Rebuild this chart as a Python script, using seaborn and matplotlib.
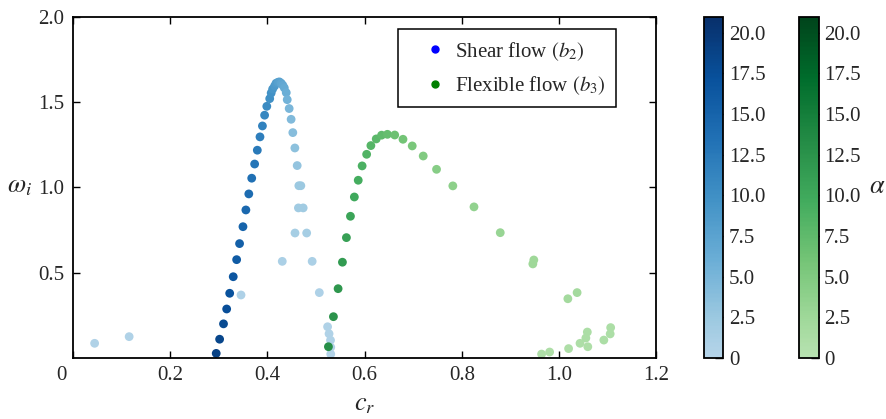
import numpy as np
import pandas as pd
import matplotlib
matplotlib.use("Agg")
import matplotlib.pyplot as plt
import matplotlib.colors as mcolors
import matplotlib.transforms as mtransforms
from matplotlib.lines import Line2D
from matplotlib.ticker import FuncFormatter
import seaborn as sns

# Shear flow (b2): phase speed, growth rate, wavenumber
shear_cr = [0.295, 0.302, 0.310, 0.3165, 0.3227, 0.330, 0.337, 0.343, 0.350, 0.356,
            0.362, 0.368, 0.374, 0.3795, 0.385, 0.390, 0.3945, 0.399, 0.405, 0.408,
            0.411, 0.415, 0.418, 0.422, 0.425, 0.4287, 0.432, 0.435, 0.439,
            0.441, 0.445, 0.449, 0.4525, 0.4567, 0.4615, 0.4649, 0.469, 0.464, 0.4738,
            0.457, 0.481, 0.4308, 0.4923, 0.346, 0.507, 0.045, 0.116,
            0.524, 0.527, 0.530, 0.5305, 0.5305]
shear_wi = [0.027, 0.110, 0.200, 0.287, 0.379, 0.476, 0.576, 0.670, 0.769, 0.867,
            0.961, 1.053, 1.136, 1.217, 1.295, 1.359, 1.422, 1.474, 1.519, 1.552,
            1.575, 1.593, 1.609, 1.615, 1.617, 1.609, 1.597, 1.582, 1.554,
            1.513, 1.461, 1.398, 1.320, 1.230, 1.127, 1.009, 1.009, 0.879, 0.879,
            0.732, 0.732, 0.566, 0.566, 0.369, 0.383, 0.086, 0.125,
            0.183, 0.142, 0.104, 0.063, 0.023]
shear_alpha = [19.0, 18.5, 18.0, 17.5, 17.0, 16.5, 16.0, 15.5, 15.0, 14.5,
               14.0, 13.5, 13.0, 12.5, 12.0, 11.5, 11.0, 10.5, 10.0, 9.6,
               9.2, 8.8, 8.4, 8.0, 7.6, 7.2, 6.8, 6.4, 6.0,
               5.5, 5.0, 4.5, 4.0, 3.5, 3.0, 2.5, 2.5, 2.0, 2.0,
               1.5, 1.5, 1.0, 1.0, 0.8, 0.8, 0.5, 0.5,
               0.6, 0.5, 0.5, 0.4, 0.4]

# Flexible flow (b3)
flex_cr = [0.5257, 0.536, 0.5456, 0.5545, 0.5627, 0.571, 0.579, 0.587, 0.595, 0.6043,
           0.613, 0.624, 0.635, 0.647, 0.662, 0.679, 0.698, 0.7206, 0.748, 0.7815,
           0.825, 0.879, 0.948, 0.946, 1.018, 1.037,
           0.964, 0.9805, 1.0195, 1.043, 1.059, 1.055, 1.058, 1.092, 1.105, 1.106]
flex_wi = [0.066, 0.242, 0.406, 0.561, 0.705, 0.830, 0.943, 1.041, 1.125, 1.193,
           1.244, 1.283, 1.305, 1.310, 1.306, 1.281, 1.242, 1.183, 1.105, 1.008,
           0.885, 0.734, 0.574, 0.551, 0.347, 0.383,
           0.023, 0.035, 0.055, 0.086, 0.066, 0.117, 0.152, 0.105, 0.141, 0.178]
flex_alpha = [13.0, 12.5, 12.0, 11.5, 11.0, 10.5, 10.0, 9.5, 9.0, 8.6,
              8.2, 7.8, 7.4, 7.0, 6.5, 6.0, 5.5, 5.0, 4.5, 4.0,
              3.5, 3.0, 2.5, 2.4, 2.0, 2.0,
              1.0, 1.0, 1.0, 1.0, 1.0, 1.2, 1.2, 1.2, 1.2, 1.2]

x_ticks = [0, 0.2, 0.4, 0.6, 0.8, 1.0, 1.2]
x_tick_labels = ["0", "0.2", "0.4", "0.6", "0.8", "1.0", "1.2"]
y_ticks = [0.5, 1.0, 1.5, 2.0]
y_tick_labels = ["0.5", "1.0", "1.5", "2.0"]
cbar_ticks = [0, 2.5, 5.0, 7.5, 10.0, 12.5, 15.0, 17.5, 20.0]
alpha_max = 21.0

sns.set_style("ticks")
plt.rcParams["font.family"] = ["Liberation Serif", "DejaVu Serif"]
plt.rcParams["mathtext.fontset"] = "stix"
plt.rcParams["xtick.direction"] = "in"
plt.rcParams["ytick.direction"] = "in"


def truncated(name, lo=0.3, hi=1.0, n=256):
    base = plt.get_cmap(name)
    return mcolors.LinearSegmentedColormap.from_list(
        f"{name}_trunc", base(np.linspace(lo, hi, n)))


blues = truncated("Blues", 0.3, 1.0)
greens = truncated("Greens", 0.3, 1.0)
norm = mcolors.Normalize(vmin=0, vmax=alpha_max)

shear = pd.DataFrame({"cr": shear_cr, "wi": shear_wi, "alpha": shear_alpha})
flex = pd.DataFrame({"cr": flex_cr, "wi": flex_wi, "alpha": flex_alpha})

fig = plt.figure(figsize=(8.87, 4.19), dpi=100)
ax = fig.add_axes([0.082, 0.1456, 0.658, 0.815])

sns.scatterplot(data=shear, x="cr", y="wi", hue="alpha", palette=blues,
                hue_norm=norm, s=40, linewidth=0, legend=False, ax=ax)
sns.scatterplot(data=flex, x="cr", y="wi", hue="alpha", palette=greens,
                hue_norm=norm, s=40, linewidth=0, legend=False, ax=ax)

ax.set_xlim(0, 1.2)
ax.set_ylim(0, 2.0)
ax.set_xticks(x_ticks)
ax.set_xticklabels(x_tick_labels)
ax.set_yticks(y_ticks)
ax.set_yticklabels(y_tick_labels)
ax.tick_params(axis="both", which="major", direction="in", length=5, width=1,
               top=True, right=True, labelsize=15, pad=6, color="black")
# nudge the origin label off the corner
lbl0 = ax.get_xticklabels()[0]
lbl0.set_transform(lbl0.get_transform()
                   + mtransforms.ScaledTranslation(-11 / 100, 0, fig.dpi_scale_trans))
for sp in ax.spines.values():
    sp.set_linewidth(1.3)
    sp.set_color("black")

ax.set_xlabel(r"$c_r$", fontsize=19, labelpad=6)
ax.set_ylabel(r"$\omega_i$", fontsize=19, rotation=0, ha="center", va="center")
ax.yaxis.set_label_coords(-0.092, 0.5)

handles = [
    Line2D([], [], marker="o", ls="none", color="blue", markersize=5,
           label=r"Shear flow $(b_2)$"),
    Line2D([], [], marker="o", ls="none", color="green", markersize=5,
           label=r"Flexible flow $(b_3)$"),
]
leg = ax.legend(handles=handles, loc="upper right", bbox_to_anchor=(0.930, 0.962),
                borderaxespad=0, fontsize=15, frameon=True, fancybox=False,
                framealpha=1, edgecolor="black", handletextpad=-0.27,
                borderpad=0.5, labelspacing=0.55, handlelength=2.46)
leg.get_frame().set_linewidth(1.1)

fmt = FuncFormatter(lambda v, p: "0" if v == 0 else f"{v:.1f}")
for left, cmap, label in [(0.7937, blues, None), (0.901, greens, r"$\alpha$")]:
    cax = fig.add_axes([left, 0.1456, 0.0218, 0.815])
    sm = plt.cm.ScalarMappable(norm=norm, cmap=cmap)
    cb = fig.colorbar(sm, cax=cax)
    cb.set_ticks(cbar_ticks)
    cb.ax.yaxis.set_major_formatter(fmt)
    cb.ax.tick_params(direction="in", length=6, width=1, labelsize=15, pad=4,
                      color="black")
    cb.outline.set_linewidth(1.3)
    cb.outline.set_edgecolor("black")
    if label:
        cb.set_label(label, fontsize=19, rotation=0, labelpad=12, va="center")

fig.savefig("out.png", dpi=100)
